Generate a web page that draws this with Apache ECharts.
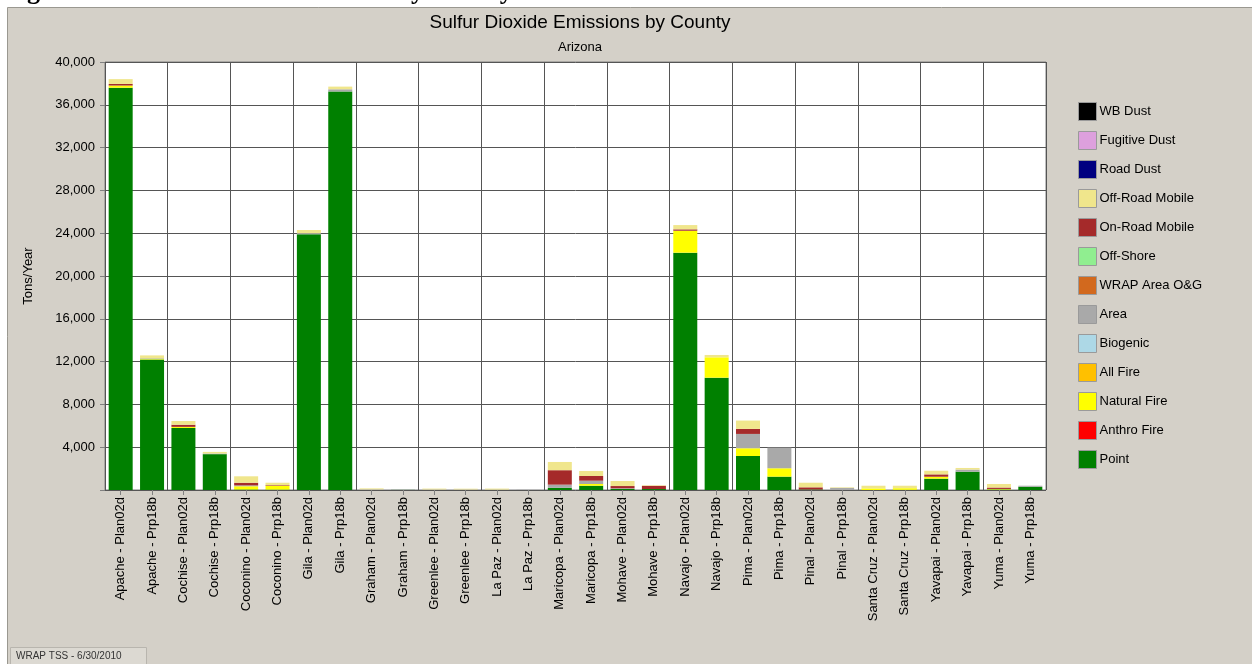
<!DOCTYPE html>
<html>
<head>
<meta charset="utf-8">
<script src="https://cdn.jsdelivr.net/npm/echarts@6/dist/echarts.min.js"></script>
<style>
html,body{margin:0;padding:0;background:#fff;}
#main{width:1252px;height:664px;}
</style>
</head>
<body>
<div id="main"></div>
<script>
var categories = [
  'Apache - Plan02d','Apache - Prp18b','Cochise - Plan02d','Cochise - Prp18b',
  'Coconino - Plan02d','Coconino - Prp18b','Gila - Plan02d','Gila - Prp18b',
  'Graham - Plan02d','Graham - Prp18b','Greenlee - Plan02d','Greenlee - Prp18b',
  'La Paz - Plan02d','La Paz - Prp18b','Maricopa - Plan02d','Maricopa - Prp18b',
  'Mohave - Plan02d','Mohave - Prp18b','Navajo - Plan02d','Navajo - Prp18b',
  'Pima - Plan02d','Pima - Prp18b','Pinal - Plan02d','Pinal - Prp18b',
  'Santa Cruz - Plan02d','Santa Cruz - Prp18b','Yavapai - Plan02d','Yavapai - Prp18b',
  'Yuma - Plan02d','Yuma - Prp18b'
];

// Tons/Year by source category (stack order bottom -> top)
var point        = [37600,12200,5800,3350,50,40,23900,37250,0,10,0,0,0,0,200,400,100,90,22180,10500,3180,1250,50,0,0,20,1060,1710,50,300];
var anthroFire   = [0,0,0,0,0,0,0,0,0,0,0,0,0,0,0,0,0,0,0,0,0,0,0,0,0,0,0,0,0,0];
var naturalFire  = [200,80,100,0,300,350,0,0,0,0,0,0,0,0,0,160,0,0,2050,1900,720,780,0,0,150,150,180,0,50,0];
var allFire      = [0,0,0,0,0,0,0,0,0,0,0,0,0,0,0,0,0,0,0,0,0,0,0,0,0,0,0,0,0,0];
var biogenic     = [0,0,0,0,0,0,0,0,0,0,0,0,0,0,0,0,0,0,0,0,0,0,0,0,0,0,0,0,0,0];
var area         = [0,50,0,60,80,0,100,200,60,20,50,50,40,20,300,310,60,0,0,0,1340,1930,0,200,0,0,0,200,0,100];
var wrapAreaOG   = [0,0,0,0,0,0,0,0,0,0,0,0,0,0,0,0,0,0,0,0,0,0,0,0,0,0,0,0,0,0];
var offShore     = [0,0,0,0,0,0,0,0,0,0,0,0,0,0,0,0,0,0,0,0,0,0,0,0,0,0,0,0,0,0];
var onRoadMobile = [150,0,200,0,250,60,0,0,0,0,0,0,0,0,1350,440,210,300,130,0,470,0,200,0,0,0,220,0,130,0];
var offRoadMobile= [450,250,350,150,600,230,300,250,90,0,80,70,90,0,770,470,470,50,400,220,780,0,430,50,250,230,340,150,330,0];
var roadDust     = [0,0,0,0,0,0,0,0,0,0,0,0,0,0,0,0,0,0,0,0,0,0,0,0,0,0,0,0,0,0];
var fugitiveDust = [0,0,0,0,0,0,0,0,0,0,0,0,0,0,0,0,0,0,0,0,0,0,0,0,0,0,0,0,0,0];
var wbDust       = [0,0,0,0,0,0,0,0,0,0,0,0,0,0,0,0,0,0,0,0,0,0,0,0,0,0,0,0,0,0];

var yTicks = [0,4000,8000,12000,16000,20000,24000,28000,32000,36000,40000];

var seriesDefs = [
  ['Point', point, '#008000'],
  ['Anthro Fire', anthroFire, '#FF0000'],
  ['Natural Fire', naturalFire, '#FFFF00'],
  ['All Fire', allFire, '#FFC000'],
  ['Biogenic', biogenic, '#ADD8E6'],
  ['Area', area, '#A9A9A9'],
  ['WRAP Area O&G', wrapAreaOG, '#D2691E'],
  ['Off-Shore', offShore, '#90EE90'],
  ['On-Road Mobile', onRoadMobile, '#A52A2A'],
  ['Off-Road Mobile', offRoadMobile, '#F0E68C'],
  ['Road Dust', roadDust, '#000080'],
  ['Fugitive Dust', fugitiveDust, '#DDA0DD'],
  ['WB Dust', wbDust, '#000000']
];

var FONT = '"Liberation Sans", Arial, sans-serif';

var series = seriesDefs.map(function (d) {
  return {
    name: d[0],
    type: 'bar',
    stack: 'total',
    data: d[1],
    barWidth: 24,
    z: 3,
    itemStyle: { color: d[2] },
    emphasis: { disabled: true }
  };
});

var chart = echarts.init(document.getElementById('main'), null, { renderer: 'canvas' });

chart.setOption({
  animation: false,
  backgroundColor: '#ffffff',
  textStyle: { fontFamily: FONT },
  graphic: [
    {
      type: 'text', left: 4, top: -21, z: -10, silent: true,
      style: { text: 'Figure 4. Sulfur Dioxide Emissions by County in Arizona', font: 'bold 26px "Liberation Serif", "Times New Roman", serif', fill: '#000' }
    },
    {
      type: 'rect', z: -9, silent: true,
      shape: { x: 7.5, y: 7.5, width: 1250, height: 660 },
      style: { fill: '#D4D0C8', stroke: '#9a9890', lineWidth: 1 }
    },
    {
      type: 'rect', z: -8, silent: true,
      shape: { x: 10.5, y: 647.5, width: 136, height: 20 },
      style: { fill: '#DCD9D2', stroke: '#b8b5ae', lineWidth: 1 }
    },
    {
      type: 'text', z: -7, left: 16, top: 651, silent: true,
      style: { text: 'WRAP TSS - 6/30/2010', font: '10px ' + FONT, fill: '#333' }
    }
  ],
  title: {
    text: 'Sulfur Dioxide Emissions by County',
    subtext: 'Arizona',
    left: 575,
    textAlign: 'center',
    top: 8,
    itemGap: 9,
    textStyle: { fontFamily: FONT, fontSize: 19, fontWeight: 'normal', color: '#000' },
    subtextStyle: { fontFamily: FONT, fontSize: 13, color: '#000' }
  },
  legend: {
    orient: 'vertical',
    left: 1073,
    top: 97,
    itemWidth: 18,
    itemHeight: 18,
    itemGap: 10,
    icon: 'rect',
    data: seriesDefs.slice().reverse().map(function (d) { return d[0]; }),
    textStyle: { fontFamily: FONT, fontSize: 13, color: '#000', padding: [0, 0, 0, -2] },
    itemStyle: { borderColor: '#9a9a9a', borderWidth: 1 },
    selectedMode: false
  },
  grid: {
    left: 105, right: 206, top: 62, bottom: 174,
    show: true, backgroundColor: '#ffffff', borderColor: '#808080', borderWidth: 1
  },
  xAxis: {
    type: 'category',
    data: categories,
    axisLine: { show: false },
    axisTick: { show: true, alignWithLabel: true, interval: 0, length: 5, lineStyle: { color: '#808080' } },
    axisLabel: { interval: 0, rotate: 90, margin: 7, fontFamily: FONT, fontSize: 13, color: '#000' },
    splitLine: {
      show: true,
      interval: function (index) { return index % 2 === 0; },
      lineStyle: { color: '#555', width: 1 }
    }
  },
  yAxis: {
    type: 'value',
    min: yTicks[0],
    max: yTicks[yTicks.length - 1],
    interval: 4000,
    name: 'Tons/Year',
    nameLocation: 'middle',
    nameRotate: 90,
    nameGap: 70,
    nameTextStyle: { fontFamily: FONT, fontSize: 13, color: '#000' },
    axisLine: { show: false },
    axisTick: { show: true, length: 5, lineStyle: { color: '#808080' } },
    axisLabel: {
      margin: 10, fontFamily: FONT, fontSize: 13, color: '#000',
      formatter: function (v) { return v === 0 ? '' : v.toLocaleString('en-US'); }
    },
    splitLine: { show: true, lineStyle: { color: '#555', width: 1 } }
  },
  series: series
});
</script>
</body>
</html>
